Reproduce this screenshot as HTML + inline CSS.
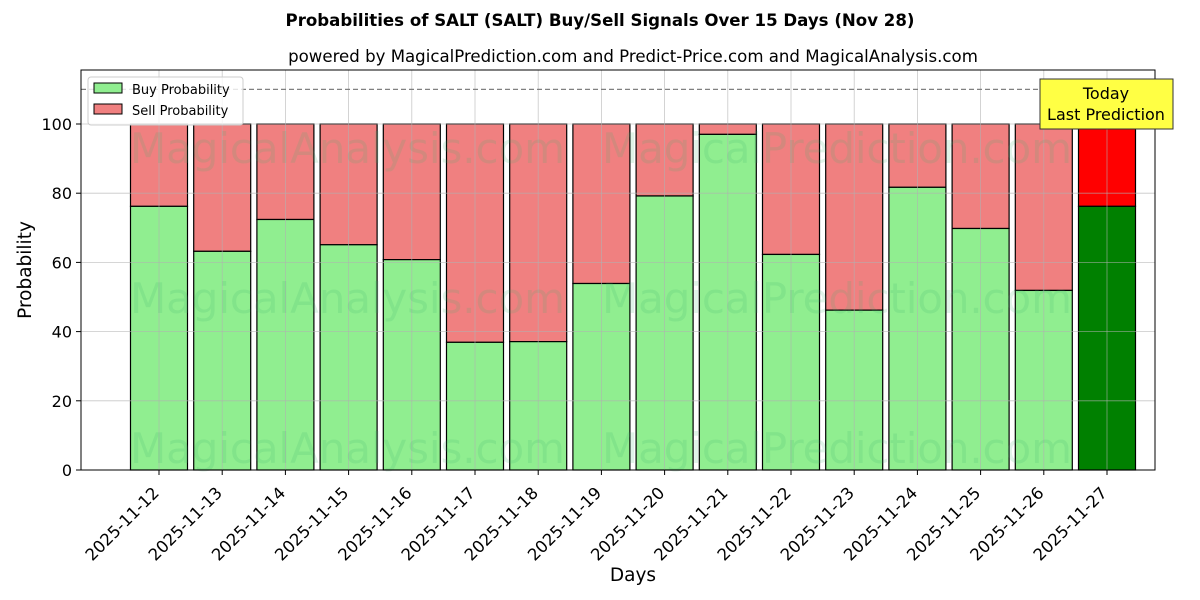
<!DOCTYPE html>
<html><head><meta charset="utf-8"><style>
body{margin:0;background:#fff;}
svg{display:block;font-family:"DejaVu Sans","Liberation Sans",sans-serif;}
</style></head><body>
<svg id="s" width="1200" height="600" xmlns="http://www.w3.org/2000/svg">
<rect width="1200" height="600" fill="#fff"/>
<text x="600" y="26" text-anchor="middle" font-size="16.6" font-weight="bold">Probabilities of SALT (SALT) Buy/Sell Signals Over 15 Days (Nov 28)</text>
<text x="633" y="62" text-anchor="middle" font-size="16.6">powered by MagicalPrediction.com and Predict-Price.com and MagicalAnalysis.com</text>
<g id="bars"></g>
<g id="grid" stroke="#b0b0b0" stroke-width="0.8"></g>
<g font-size="42" fill="#3cb371" fill-opacity="0.16">
<text x="130" y="163" textLength="435">MagicalAnalysis.com</text><text x="602" y="163" textLength="470">MagicalPrediction.com</text>
<text x="130" y="313" textLength="435">MagicalAnalysis.com</text><text x="602" y="313" textLength="470">MagicalPrediction.com</text>
<text x="130" y="463" textLength="435">MagicalAnalysis.com</text><text x="602" y="463" textLength="470">MagicalPrediction.com</text>
</g>
<line x1="81" x2="1155" y1="89.4" y2="89.4" stroke="#808080" stroke-width="1.2" stroke-dasharray="5,3"/>
<rect x="81" y="70" width="1074" height="400" fill="none" stroke="#000" stroke-width="1"/>
<g id="ticks" font-size="16"></g>
<text x="633" y="581" text-anchor="middle" font-size="18.5">Days</text>
<text transform="translate(31,270) rotate(-90)" text-anchor="middle" font-size="18.5">Probability</text>
<rect x="88" y="77" width="155" height="48" rx="3" fill="#fff" fill-opacity="0.8" stroke="#ccc"/>
<rect x="94" y="83" width="28" height="10" fill="#90ee90" stroke="#000"/>
<text x="132" y="94" font-size="13">Buy Probability</text>
<rect x="94" y="104" width="28" height="10" fill="#f08080" stroke="#000"/>
<text x="132" y="115" font-size="13">Sell Probability</text>
<rect x="1040" y="79" width="133" height="50" fill="#ffff44" stroke="#333"/>
<text x="1106" y="99" text-anchor="middle" font-size="16">Today</text>
<text x="1106" y="120" text-anchor="middle" font-size="16">Last Prediction</text>
</svg>
<script>
const NS="http://www.w3.org/2000/svg";
const buy=[76.2,63.2,72.4,65.1,60.8,36.9,37.1,53.9,79.2,97,62.3,46.2,81.7,69.8,51.9,76.2];
const bars=document.getElementById("bars"),grid=document.getElementById("grid"),ticks=document.getElementById("ticks");
function el(p,t,a,txt){const e=document.createElementNS(NS,t);for(const k in a)e.setAttribute(k,a[k]);if(txt)e.textContent=txt;p.appendChild(e);return e;}
const Y=v=>470-3.46*v;
buy.forEach((v,i)=>{
 const c=159+63.2*i,l=c-28.5,last=i==15;
 el(bars,"rect",{x:l,y:Y(100),width:57,height:Y(v)-Y(100),fill:last?"#ff0000":"#f08080",stroke:"#000","stroke-width":1.2});
 el(bars,"rect",{x:l,y:Y(v),width:57,height:470-Y(v),fill:last?"#008000":"#90ee90",stroke:"#000","stroke-width":1.2});
 el(grid,"line",{x1:c,x2:c,y1:70,y2:470,"stroke-opacity":0.7});
 el(ticks,"line",{x1:c,x2:c,y1:470,y2:475,stroke:"#000"});
 const d=12+i, lab="2025-11-"+d;
 el(ticks,"text",{transform:`translate(${c+1},${494}) rotate(-45)`,"text-anchor":"end","font-size":16.5},lab);
});
for(let v=0;v<=100;v+=20){
 const y=Y(v);
 el(grid,"line",{x1:81,x2:1155,y1:y,y2:y,"stroke-opacity":0.7});
 el(ticks,"line",{x1:76,x2:81,y1:y,y2:y,stroke:"#000"});
 el(ticks,"text",{x:72,y:y+6,"text-anchor":"end"},String(v));
}
</script>
</body></html>
